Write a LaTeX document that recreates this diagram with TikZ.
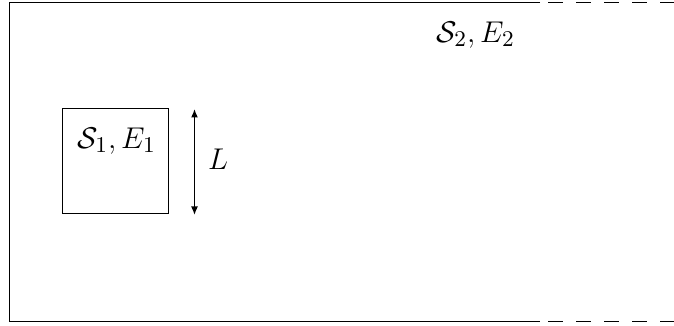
\documentclass[tikz,border=0pt]{standalone}
\usetikzlibrary{arrows.meta}
\begin{document}
\begin{tikzpicture}[x=0.4pt,y=-0.4pt,line width=0.4pt,
  lbl/.style={inner sep=0pt,font=\fontsize{13.2}{16}\selectfont},
  dimarrow/.style={line width=0.55pt,{Latex[length=3.4pt,width=2.8pt]}-{Latex[length=3.4pt,width=2.8pt]}},
  opendash/.style={dash pattern=on 6pt off 5.2pt}]
\useasboundingbox (0,0) rectangle (674,326);
\coordinate (tl) at (9,3);
\coordinate (bl) at (9,321);
\coordinate (tm) at (540,3);
\coordinate (bm) at (540,321);
\coordinate (td) at (548,3);
\coordinate (bd) at (548,321);
\coordinate (tr) at (674,3);
\coordinate (br) at (674,321);
\draw (tm) -- (tl) -- (bl) -- (bm);
\draw[opendash] (td) -- (tr);
\draw[opendash] (bd) -- (br);
\node[draw,minimum width=42.4pt,minimum height=42pt,inner sep=0pt] (sq) at (115.5,161.5) {};
\node[lbl] (s1) at (116.5,141) {$\mathcal{S}_1, E_1$};
\coordinate (at) at (194.5,109);
\coordinate (ab) at (194.5,215);
\draw[dimarrow] (at) -- (ab);
\node[lbl] (L) at (218,159) {$L$};
\node[lbl] (s2) at (475.5,35) {$\mathcal{S}_2, E_2$};
\end{tikzpicture}
\end{document}
